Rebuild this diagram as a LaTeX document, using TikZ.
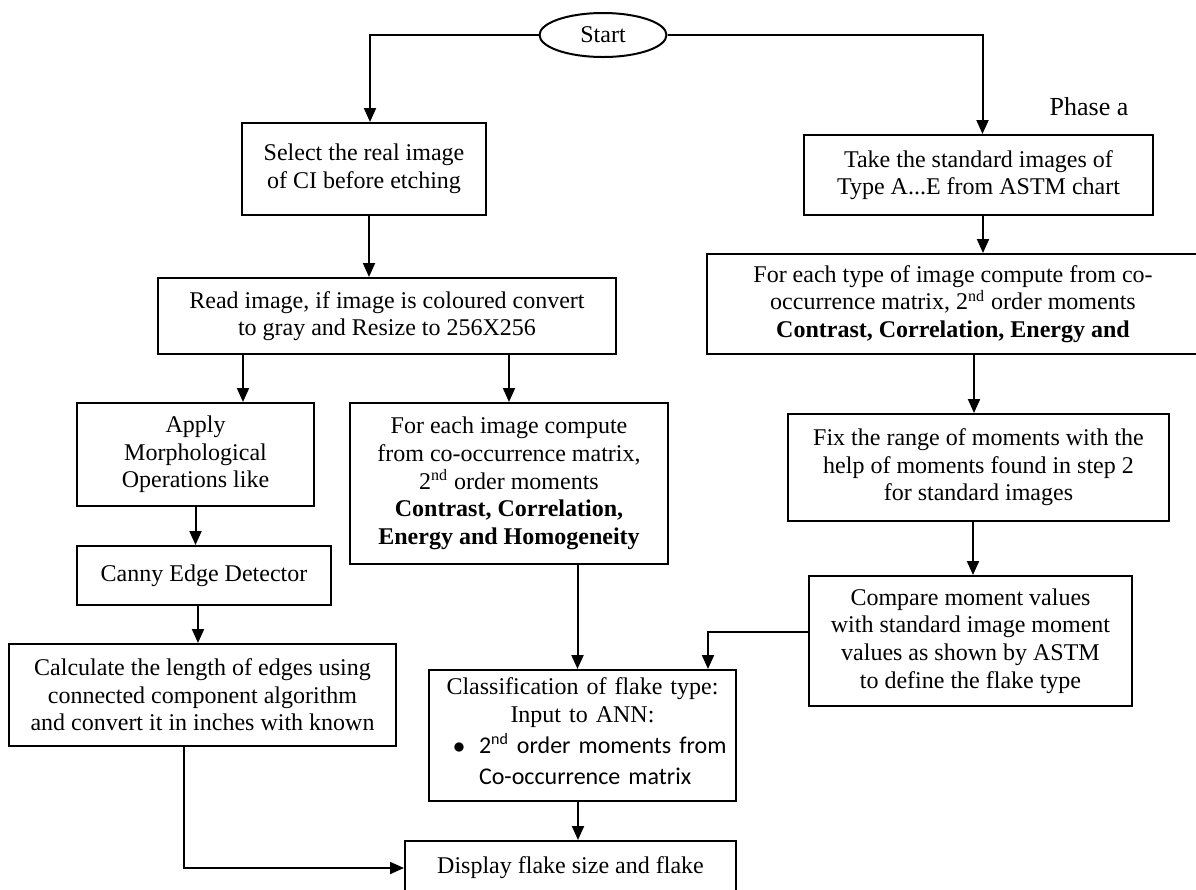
\documentclass[tikz,border=0pt]{standalone}
\usepackage{fontspec}
\setmainfont{Liberation Serif}
\newfontfamily\calfont{Carlito}
\usepackage{tikz}
\usetikzlibrary{arrows.meta,shapes.geometric}

\begin{document}
\begin{tikzpicture}[
  x=0.5pt, y=-0.5pt,
  >={Triangle[length=7pt,width=6pt]},
  font=\fontsize{12}{13.8}\selectfont,
  block/.style={rectangle, draw, line width=1pt, align=center, inner sep=2pt},
  startnode/.style={ellipse, draw, line width=1pt, minimum width=63.5pt, minimum height=22pt, inner sep=0pt},
  arr/.style={->, line width=1pt},
]
\useasboundingbox (0,0) rectangle (1196,890);
\clip (0,0) rectangle (1196,890);

\node[startnode] (start) at (603,35) {Start};
\node[font=\fontsize{13}{15}\selectfont] (phase) at (1089,107) {Phase a};

\node[block, minimum width=122pt, minimum height=46pt] (sel) at (364,169) {Select the real image\\of CI before etching};
\node[block, minimum width=229pt, minimum height=38pt] (read) at (387,316) {Read image, if image is coloured convert\\to gray and Resize to 256X256};
\node[block, minimum width=118.5pt, minimum height=51.5pt] (apply) at (195.5,454.5) {Apply\\Morphological\\Operations like};
\node[block, minimum width=127pt, minimum height=29.5pt] (canny) at (204,575.5) {Canny Edge Detector};
\node[block, minimum width=193.5pt, minimum height=51pt] (calc) at (202.5,695) {Calculate the length of edges using\\connected component algorithm\\and convert it in inches with known};
\node[block, minimum width=159pt, minimum height=80.5pt] (feach) at (509,483.5) {For each image compute\\from co-occurrence matrix,\\2\textsuperscript{nd} order moments\\\textbf{Contrast, Correlation,}\\\textbf{Energy and Homogeneity}};

\node[block, minimum width=174.5pt, minimum height=40pt] (take) at (978.5,175) {Take the standard images of\\Type A...E from ASTM chart};
\node[block, minimum width=246pt, minimum height=50pt] (ftype) at (953,304) {For each type of image compute from co-\\occurrence matrix, 2\textsuperscript{nd} order moments\\\textbf{Contrast, Correlation, Energy and}};
\node[block, minimum width=190.5pt, minimum height=53.5pt] (fix) at (978.5,467.5) {Fix the range of moments with the\\help of moments found in step 2\\for standard images};
\node[block, minimum width=161.5pt, minimum height=65pt] (cmp) at (970.5,641) {Compare moment values\\with standard image moment\\values as shown by ASTM\\to define the flake type};

\node[block, align=left, text width=149.5pt, minimum height=65.5pt] (cls) at (582.5,735.5) {{\centering Classification of flake type:\\Input to ANN:\par}\vspace{1.5pt}\hspace*{10pt}{\calfont\renewcommand{\arraystretch}{1.1}\begin{tabular}{@{}l@{\hspace{7pt}}l@{}}$\bullet$ & 2\textsuperscript{nd} order moments from\\ & Co-occurrence matrix\end{tabular}}};
\node[block, minimum width=165.5pt, minimum height=27pt] (disp) at (570.5,868) {Display flake size and flake};

\coordinate (selin) at ([xshift=3pt]sel.north);
\coordinate (selout) at ([xshift=2.5pt]sel.south);
\coordinate (applyin) at ([xshift=23.75pt]apply.north);
\coordinate (cannyout) at ([xshift=-3pt]canny.south);
\coordinate (calcout) at ([xshift=-9.25pt]calc.south);
\coordinate (clsin) at ([xshift=-2.5pt]cls.north);
\coordinate (clsside) at ([xshift=62.75pt]cls.north);
\coordinate (clsout) at ([xshift=-2.25pt]cls.south);
\coordinate (takein) at ([xshift=2pt]take.north);
\coordinate (takeout) at ([xshift=2.25pt]take.south);
\coordinate (fixin) at ([xshift=-2.25pt]fix.north);
\coordinate (fixout) at ([xshift=-2.75pt]fix.south);
\coordinate (cmpout) at ([yshift=4.5pt]cmp.west);

\draw[arr] (start.west) -| (selin);
\draw[arr] (start.east) -| (takein);
\draw[arr] (selout) -- (selout |- read.north);
\draw[arr] (applyin |- read.south) -- (applyin);
\draw[arr] (feach.north |- read.south) -- (feach.north);
\draw[arr] (apply.south) -- (apply.south |- canny.north);
\draw[arr] (cannyout) -- (cannyout |- calc.north);
\draw[arr] (calcout) |- (disp.west);
\draw[arr] (clsin |- feach.south) -- (clsin);
\draw[arr] (clsout) -- (clsout |- disp.north);
\draw[arr] (takeout) -- (takeout |- ftype.north);
\draw[arr] (fixin |- ftype.south) -- (fixin);
\draw[arr] (fixout) -- (fixout |- cmp.north);
\draw[arr] (cmpout) -| (clsside);
\end{tikzpicture}
\end{document}
